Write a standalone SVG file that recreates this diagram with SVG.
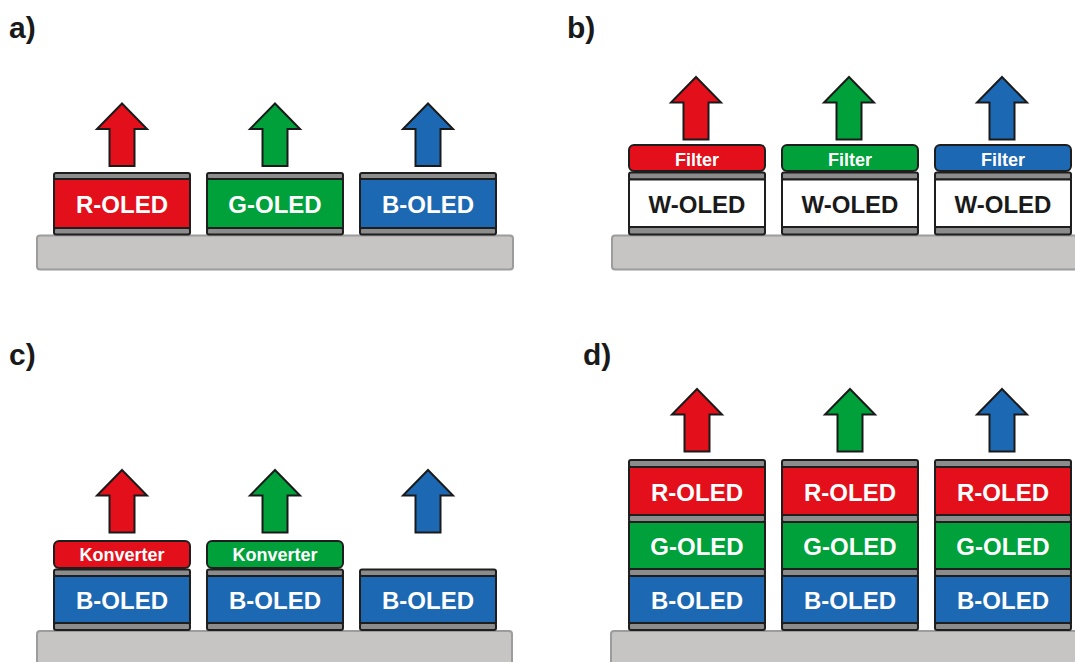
<svg xmlns="http://www.w3.org/2000/svg" width="1075" height="662" viewBox="0 0 1075 662">
<style>
.sub{fill:#C6C5C4;stroke:#9C9C9C;stroke-width:2}
.el{fill:#8C8C8C;stroke:#1E1E1E;stroke-width:2}
.lay{stroke:#1E1E1E;stroke-width:2}
.r{fill:#E30F1A}.g{fill:#00A13A}.b{fill:#1D68B2}.w{fill:#FFFFFF}
.arr{stroke:#1A1A1A;stroke-width:2;stroke-linejoin:miter}
.t{font-family:"Liberation Sans",Arial,sans-serif;font-weight:bold;font-size:24px;text-anchor:middle;fill:#FFFFFF}
.tk{fill:#1A1A1A}
.ts{font-family:"Liberation Sans",Arial,sans-serif;font-weight:bold;font-size:18px;text-anchor:middle;fill:#FFFFFF}
.lbl{font-family:"Liberation Sans",Arial,sans-serif;font-weight:bold;font-size:30px;fill:#1A1A1A}
</style>
<defs>
<path id="arrow" d="M0,0 L25,25.5 L12.5,25.5 L12.5,62.5 L-12.5,62.5 L-12.5,25.5 L-25,25.5 Z"/>
</defs>

<g id="labels">
<text class="lbl" x="9" y="38">a)</text>
<text class="lbl" x="567" y="38">b)</text>
<text class="lbl" x="9" y="365">c)</text>
<text class="lbl" x="583" y="365">d)</text>
</g>

<g id="substrates">
<rect class="sub" x="37" y="235.5" width="476" height="34" rx="3"/>
<rect class="sub" x="612" y="235.5" width="470" height="34" rx="3"/>
<rect class="sub" x="37" y="631" width="475" height="40" rx="3"/>
<rect class="sub" x="611" y="631" width="470" height="40" rx="3"/>
</g>

<!-- Panel a -->
<g id="a-red">
<rect class="el" x="54" y="173" width="136" height="6" rx="2"/>
<rect class="lay r" x="54" y="179" width="136" height="49"/>
<rect class="el" x="54" y="228" width="136" height="6.5" rx="2"/>
<text class="t" x="122" y="213">R-OLED</text>
</g>
<g id="a-green">
<rect class="el" x="207" y="173" width="136" height="6" rx="2"/>
<rect class="lay g" x="207" y="179" width="136" height="49"/>
<rect class="el" x="207" y="228" width="136" height="6.5" rx="2"/>
<text class="t" x="275" y="213">G-OLED</text>
</g>
<g id="a-blue">
<rect class="el" x="360" y="173" width="136" height="6" rx="2"/>
<rect class="lay b" x="360" y="179" width="136" height="49"/>
<rect class="el" x="360" y="228" width="136" height="6.5" rx="2"/>
<text class="t" x="428" y="213">B-OLED</text>
</g>

<!-- Panel b -->
<g id="b-red">
<rect class="lay r" x="629" y="145" width="136" height="26" rx="5"/>
<text class="ts" x="697" y="166">Filter</text>
<rect class="el" x="629" y="172.5" width="136" height="7" rx="2"/>
<rect class="lay w" x="629" y="179.5" width="136" height="47.5"/>
<rect class="el" x="629" y="227" width="136" height="7.5" rx="2"/>
<text class="t tk" x="697" y="213">W-OLED</text>
</g>
<g id="b-green">
<rect class="lay g" x="782" y="145" width="136" height="26" rx="5"/>
<text class="ts" x="850" y="166">Filter</text>
<rect class="el" x="782" y="172.5" width="136" height="7" rx="2"/>
<rect class="lay w" x="782" y="179.5" width="136" height="47.5"/>
<rect class="el" x="782" y="227" width="136" height="7.5" rx="2"/>
<text class="t tk" x="850" y="213">W-OLED</text>
</g>
<g id="b-blue">
<rect class="lay b" x="935" y="145" width="136" height="26" rx="5"/>
<text class="ts" x="1003" y="166">Filter</text>
<rect class="el" x="935" y="172.5" width="136" height="7" rx="2"/>
<rect class="lay w" x="935" y="179.5" width="136" height="47.5"/>
<rect class="el" x="935" y="227" width="136" height="7.5" rx="2"/>
<text class="t tk" x="1003" y="213">W-OLED</text>
</g>

<!-- Panel c -->
<g id="c-red">
<rect class="lay r" x="54" y="541" width="136" height="27" rx="5"/>
<text class="ts" x="122" y="561">Konverter</text>
<rect class="el" x="54" y="569.5" width="136" height="6.5" rx="2"/>
<rect class="lay b" x="54" y="576" width="136" height="47"/>
<rect class="el" x="54" y="623" width="136" height="7" rx="2"/>
<text class="t" x="122" y="609">B-OLED</text>
</g>
<g id="c-green">
<rect class="lay g" x="207" y="541" width="136" height="27" rx="5"/>
<text class="ts" x="275" y="561">Konverter</text>
<rect class="el" x="207" y="569.5" width="136" height="6.5" rx="2"/>
<rect class="lay b" x="207" y="576" width="136" height="47"/>
<rect class="el" x="207" y="623" width="136" height="7" rx="2"/>
<text class="t" x="275" y="609">B-OLED</text>
</g>
<g id="c-blue">
<rect class="el" x="360" y="569.5" width="136" height="6.5" rx="2"/>
<rect class="lay b" x="360" y="576" width="136" height="47"/>
<rect class="el" x="360" y="623" width="136" height="7" rx="2"/>
<text class="t" x="428" y="609">B-OLED</text>
</g>

<!-- Panel d -->
<g id="d-stack1">
<rect class="el" x="629" y="460" width="136" height="7" rx="2"/>
<rect class="lay r" x="629" y="467" width="136" height="48"/>
<rect class="el" x="629" y="515" width="136" height="7" rx="2"/>
<rect class="lay g" x="629" y="522" width="136" height="47"/>
<rect class="el" x="629" y="569" width="136" height="7" rx="2"/>
<rect class="lay b" x="629" y="576" width="136" height="47"/>
<rect class="el" x="629" y="623" width="136" height="7" rx="2"/>
<text class="t" x="697" y="501">R-OLED</text>
<text class="t" x="697" y="555">G-OLED</text>
<text class="t" x="697" y="609">B-OLED</text>
</g>
<g id="d-stack2">
<rect class="el" x="782" y="460" width="136" height="7" rx="2"/>
<rect class="lay r" x="782" y="467" width="136" height="48"/>
<rect class="el" x="782" y="515" width="136" height="7" rx="2"/>
<rect class="lay g" x="782" y="522" width="136" height="47"/>
<rect class="el" x="782" y="569" width="136" height="7" rx="2"/>
<rect class="lay b" x="782" y="576" width="136" height="47"/>
<rect class="el" x="782" y="623" width="136" height="7" rx="2"/>
<text class="t" x="850" y="501">R-OLED</text>
<text class="t" x="850" y="555">G-OLED</text>
<text class="t" x="850" y="609">B-OLED</text>
</g>
<g id="d-stack3">
<rect class="el" x="935" y="460" width="136" height="7" rx="2"/>
<rect class="lay r" x="935" y="467" width="136" height="48"/>
<rect class="el" x="935" y="515" width="136" height="7" rx="2"/>
<rect class="lay g" x="935" y="522" width="136" height="47"/>
<rect class="el" x="935" y="569" width="136" height="7" rx="2"/>
<rect class="lay b" x="935" y="576" width="136" height="47"/>
<rect class="el" x="935" y="623" width="136" height="7" rx="2"/>
<text class="t" x="1003" y="501">R-OLED</text>
<text class="t" x="1003" y="555">G-OLED</text>
<text class="t" x="1003" y="609">B-OLED</text>
</g>

<g id="connectors">
<use href="#arrow" class="arr r" x="122" y="103.5"/>
<use href="#arrow" class="arr g" x="275" y="103.5"/>
<use href="#arrow" class="arr b" x="428" y="103.5"/>
<use href="#arrow" class="arr r" x="696" y="77"/>
<use href="#arrow" class="arr g" x="849" y="77"/>
<use href="#arrow" class="arr b" x="1002" y="77"/>
<use href="#arrow" class="arr r" x="122" y="470"/>
<use href="#arrow" class="arr g" x="275" y="470"/>
<use href="#arrow" class="arr b" x="428" y="470"/>
<use href="#arrow" class="arr r" x="697" y="389"/>
<use href="#arrow" class="arr g" x="850" y="389"/>
<use href="#arrow" class="arr b" x="1002" y="389"/>
</g>
</svg>
